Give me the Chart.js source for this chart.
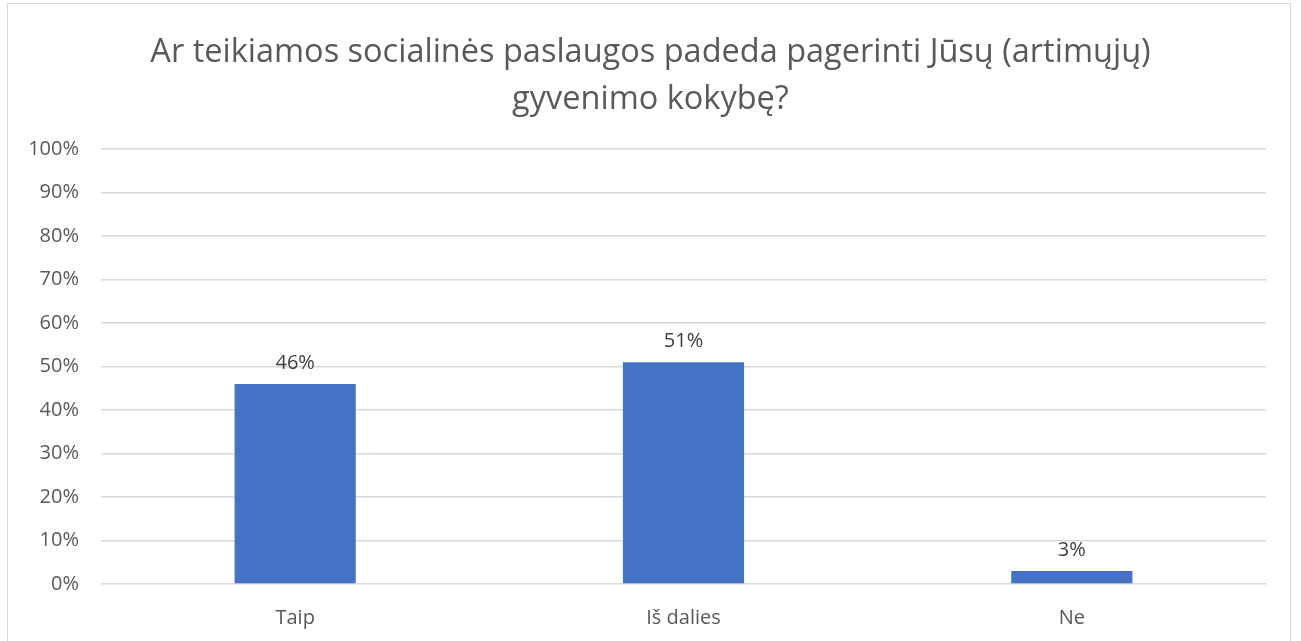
<!DOCTYPE html>
<html><head><meta charset="utf-8">
<script src="https://cdn.jsdelivr.net/npm/chart.js@4/dist/chart.umd.min.js"></script>
<style>
html,body{margin:0;padding:0;background:#fff;overflow:hidden}
#frame{position:absolute;left:7px;top:3px;width:1284px;height:700px;border:1.5px solid #d9d9d9;box-sizing:border-box}
#wrap{position:absolute;left:0;top:0;width:1301px;height:641px}
</style></head>
<body>
<div id="frame"></div>
<div id="wrap"><canvas id="c" width="1301" height="641"></canvas></div>
<script>
const titleLines = ['Ar teikiamos socialinės paslaugos padeda pagerinti Jūsų (artimųjų)', 'gyvenimo kokybę?'];
const categories = ['Taip', 'Iš dalies', 'Ne'];
const values = [46, 51, 3];
const yTickLabels = ['0%','10%','20%','30%','40%','50%','60%','70%','80%','90%','100%'];

const FONT = "'Open Sans', 'Noto Sans', sans-serif";

const labelPlugin = {
  id: 'barLabels',
  afterDatasetsDraw(chart) {
    const ctx = chart.ctx;
    const meta = chart.getDatasetMeta(0);
    ctx.save();
    ctx.font = "20px " + FONT;
    ctx.fillStyle = '#404040';
    ctx.textAlign = 'center';
    ctx.textBaseline = 'middle';
    meta.data.forEach((bar, i) => {
      ctx.fillText(values[i] + '%', bar.x, bar.y - 21);
    });
    ctx.restore();
  }
};

new Chart(document.getElementById('c'), {
  type: 'bar',
  data: {
    labels: categories,
    datasets: [{
      data: values,
      backgroundColor: '#4472C4',
      barPercentage: 1,
      categoryPercentage: 0.312
    }]
  },
  options: {
    responsive: false,
    animation: false,
    layout: { padding: { left: 0, right: 0, top: 0, bottom: 0 } },
    plugins: {
      legend: { display: false },
      tooltip: { enabled: false },
      title: {
        display: true,
        text: titleLines,
        color: '#595959',
        font: { family: FONT, size: 32.5, weight: 'normal', lineHeight: 1.446 },
        padding: { top: 29, bottom: 26 }
      }
    },
    scales: {
      x: {
        grid: { display: false },
        border: { display: false },
        ticks: { color: '#595959', font: { family: FONT, size: 20 }, padding: 14 },
        afterFit(scale) { scale.height = 57; }
      },
      y: {
        min: 0, max: 100,
        ticks: {
          stepSize: 10,
          color: '#595959',
          font: { family: FONT, size: 20 },
          padding: 22,
          callback: (v) => yTickLabels[Math.round(v / 10)]
        },
        grid: { color: '#d9d9d9', lineWidth: 1.5, drawTicks: false },
        border: { display: false },
        afterFit(scale) { scale.width = 101; }
      },
      yRight: {
        position: 'right',
        min: 0, max: 100,
        grid: { display: false, drawTicks: false },
        border: { display: false },
        ticks: { display: false },
        afterFit(scale) { scale.width = 35; }
      }
    }
  },
  plugins: [labelPlugin]
});
</script>
</body></html>
